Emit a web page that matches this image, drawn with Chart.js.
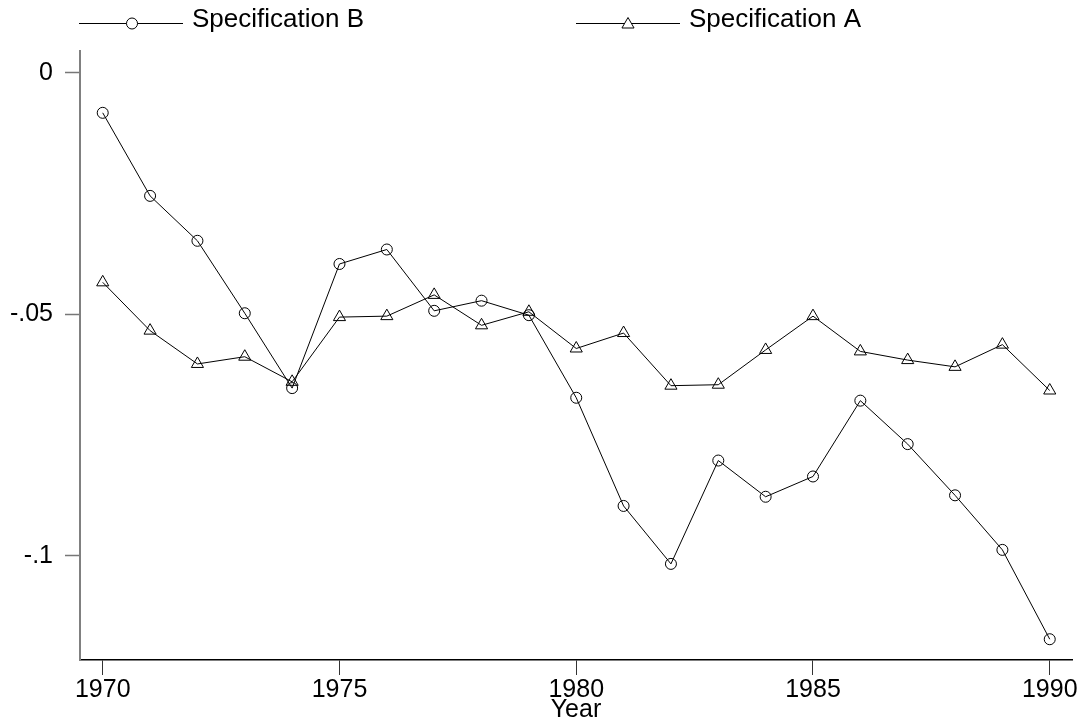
<!DOCTYPE html>
<html>
<head>
<meta charset="utf-8">
<script src="https://cdn.jsdelivr.net/npm/chart.js@4.4.1/dist/chart.umd.min.js"></script>
<style>
  html, body { margin: 0; padding: 0; background: #ffffff; }
  #wrap { width: 1080px; height: 728px; position: relative; }
</style>
</head>
<body>
<div id="wrap"><canvas id="c" width="1080" height="728"></canvas></div>
<script>
const years = [1970,1971,1972,1973,1974,1975,1976,1977,1978,1979,1980,1981,1982,1983,1984,1985,1986,1987,1988,1989,1990];
const specB = [-0.0083,-0.0255,-0.0348,-0.0498,-0.0653,-0.0396,-0.0366,-0.0493,-0.0472,-0.0502,-0.0673,-0.0897,-0.1017,-0.0803,-0.0878,-0.0836,-0.0679,-0.0769,-0.0875,-0.0988,-0.1173];
const specA = [-0.0434,-0.0534,-0.0603,-0.0588,-0.0640,-0.0506,-0.0504,-0.0460,-0.0523,-0.0495,-0.0571,-0.0539,-0.0648,-0.0646,-0.0574,-0.0504,-0.0577,-0.0595,-0.0609,-0.0563,-0.0658];
const xTicks = [1970,1975,1980,1985,1990];
const yTicks = [-0.1,-0.05,0];
const yTickLabels = ['-.1','-.05','0'];
const xTitle = 'Year';
const labelB = 'Specification B';
const labelA = 'Specification A';

const FONT = 'Liberation Sans, Arial, Helvetica, sans-serif';

const legendPlugin = {
  id: 'stataLegend',
  afterDraw(chart) {
    const ctx = chart.ctx;
    const items = [
      {ds: chart.data.datasets[0], x0: 79, x1: 183, mx: 132},
      {ds: chart.data.datasets[1], x0: 576, x1: 680, mx: 628}
    ];
    const ly = 23.5;
    ctx.save();
    items.forEach(it => {
      ctx.strokeStyle = '#000';
      ctx.lineWidth = 1;
      ctx.beginPath();
      ctx.moveTo(it.x0, ly);
      ctx.lineTo(it.x1, ly);
      ctx.stroke();
      ctx.fillStyle = '#ffffff';
      ctx.strokeStyle = '#000';
      ctx.lineWidth = 1;
      Chart.helpers.drawPoint(ctx, {
        pointStyle: it.ds.pointStyle,
        radius: it.ds.pointRadius,
        rotation: 0,
        borderWidth: 1
      }, it.mx, it.ds.pointStyle === 'triangle' ? 24.5 : ly);
      ctx.fillStyle = '#000';
      ctx.font = '26px ' + FONT;
      ctx.textAlign = 'left';
      ctx.textBaseline = 'middle';
      ctx.fillText(it.ds.label, it.x1 + 9, 20);
    });
    ctx.restore();
  }
};

const toXY = (vals) => years.map((y, i) => ({x: y, y: vals[i]}));

new Chart(document.getElementById('c'), {
  type: 'line',
  data: {
    datasets: [
      {
        label: labelB,
        data: toXY(specB),
        borderColor: '#000',
        borderWidth: 1,
        pointStyle: 'circle',
        pointRadius: 5.5,
        pointBorderWidth: 1,
        pointBorderColor: '#000',
        pointBackgroundColor: 'rgba(0,0,0,0)',
        tension: 0
      },
      {
        label: labelA,
        data: toXY(specA),
        borderColor: '#000',
        borderWidth: 1,
        pointStyle: 'triangle',
        pointRadius: 7,
        pointBorderWidth: 1,
        pointBorderColor: '#000',
        pointBackgroundColor: 'rgba(0,0,0,0)',
        tension: 0
      }
    ]
  },
  options: {
    responsive: false,
    animation: false,
    devicePixelRatio: 1,
    layout: { padding: { left: 0, top: 51, right: 8, bottom: 0 } },
    plugins: {
      legend: { display: false },
      tooltip: { enabled: false }
    },
    scales: {
      x: {
        type: 'linear',
        min: 1969.52,
        max: 1990.47,
        afterBuildTicks(scale) { scale.ticks = xTicks.map(v => ({value: v})); },
        afterFit(scale) { scale.height = 68; },
        grid: { display: true, drawOnChartArea: false, drawTicks: true, tickLength: 15, tickWidth: 1, tickColor: '#333' },
        border: { display: true, color: '#000', width: 1.5 },
        ticks: {
          color: '#000',
          font: { family: FONT, size: 25 },
          padding: 0,
          maxRotation: 0,
          callback: (v) => String(v)
        },
        title: {
          display: true,
          text: xTitle,
          color: '#000',
          font: { family: FONT, size: 25 },
          padding: { top: 0, bottom: 3 }
        }
      },
      y: {
        type: 'linear',
        min: -0.1216,
        max: 0.0045,
        afterBuildTicks(scale) { scale.ticks = yTicks.map(v => ({value: v})); },
        afterFit(scale) { scale.width = 80; },
        grid: { display: true, drawOnChartArea: false, drawTicks: true, tickLength: 15, tickWidth: 1.5, tickColor: '#777' },
        border: { display: true, color: '#808080', width: 2 },
        ticks: {
          color: '#000',
          font: { family: FONT, size: 25 },
          padding: 12,
          callback: (v) => {
            const i = yTicks.findIndex(t => Math.abs(t - v) < 1e-9);
            return i >= 0 ? yTickLabels[i] : '';
          }
        }
      }
    }
  },
  plugins: [legendPlugin]
});
</script>
</body>
</html>
